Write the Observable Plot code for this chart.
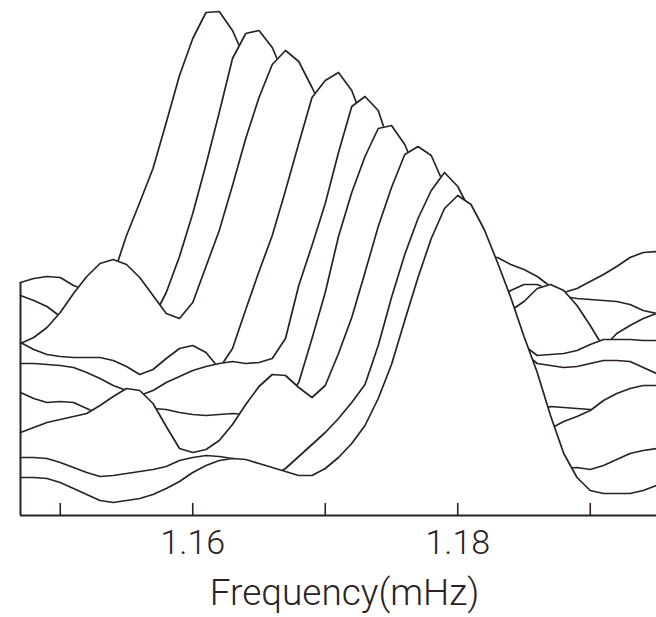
<!DOCTYPE html>
<html>
<head>
<meta charset="utf-8">
<script src="https://cdn.jsdelivr.net/npm/d3@7"></script>
<script src="https://cdn.jsdelivr.net/npm/@observablehq/plot@0.6"></script>
<style>
html, body { margin: 0; padding: 0; background: #ffffff; }
#chart { width: 656px; height: 617px; }
</style>
</head>
<body>
<div id="chart"></div>
<script>
// Frequency grid (mHz)
const freq = [1.147,1.148,1.149,1.150,1.151,1.152,1.153,1.154,1.155,1.156,
  1.157,1.158,1.159,1.160,1.161,1.162,1.163,1.164,1.165,1.166,
  1.167,1.168,1.169,1.170,1.171,1.172,1.173,1.174,1.175,1.176,
  1.177,1.178,1.179,1.180,1.181,1.182,1.183,1.184,1.185,1.186,
  1.187,1.188,1.189,1.190,1.191,1.192,1.193,1.194,1.195];

// Offset power spectra (arbitrary units), front (A) to back (I)
const spectrumA = [38,38,37,33,27,21,15,13,15,17,21,27,34,43,50,55,57,56,52,48,44,40,40,47,58,72,90,117,151,195,238,277,307,320,311,286,253,218,179,143,100,62,38,25,22,22,22,25,30];
const spectrumB = [58,58,57,53,48,43,39,40,42,44,46,49,55,58,60,59,57,52,45,39,47,59,71,83,97,113,131,170,218,261,297,325,343,329,303,275,240,205,165,125,85,47,48,46,50,56,62,65,67];
const spectrumC = [83,88,93,96,99,102,110,119,127,125,112,89,67,63,66,75,91,111,129,141,140,128,118,130,162,198,243,289,328,361,369,360,330,300,265,225,185,145,115,95,87,94,99,105,115,122,127,130,130];
const spectrumD = [123,117,113,114,113,107,101,101,103,105,107,106,103,101,100,101,102,101,100,103,115,133,177,223,279,323,359,387,390,371,340,300,260,220,185,155,130,115,105,103,109,108,107,106,103,105,110,115,117];
const spectrumE = [152,152,151,150,148,143,137,130,125,120,125,133,139,145,149,152,154,152,153,157,177,230,270,312,363,409,419,405,365,330,295,260,230,205,185,175,170,167,163,152,150,148,149,152,155,155,154,148,142];
const spectrumF = [173,166,161,159,158,158,158,155,149,141,146,157,167,170,163,147,167,206,244,280,325,372,418,435,443,425,390,355,320,285,255,230,210,195,185,177,173,170,170,160,161,162,165,171,176,176,176,175,175];
const spectrumG = [172,178,188,203,222,239,252,256,251,238,220,202,197,213,249,285,330,377,418,451,465,454,428,400,365,330,300,275,255,240,230,223,218,215,213,211,209,205,214,227,231,225,210,190,168,182,190,197,202];
const spectrumH = [220,215,209,199,197,195,195,197,200,201,197,223,259,302,351,403,457,482,485,468,437,405,375,345,320,300,285,270,257,247,239,233,227,222,217,215,215,225,231,231,225,219,217,216,215,214,211,205,202];
const spectrumI = [233,237,239,238,230,225,230,240,280,313,347,393,440,477,503,504,485,455,420,385,355,330,310,295,283,275,270,267,265,264,263,263,262,261,260,259,258,251,246,239,229,223,227,234,241,249,258,263,264];

// Drawing order: back to front (hidden-line waterfall)
const traceOrder = ["I","H","G","F","E","D","C","B","A"];
const tickValues = [1.15, 1.16, 1.17, 1.18, 1.19];
const tickLabels = [1.16, 1.18];
const xLabel = "Frequency(mHz)";

const spectra = {A: spectrumA, B: spectrumB, C: spectrumC, D: spectrumD, E: spectrumE,
                 F: spectrumF, G: spectrumG, H: spectrumH, I: spectrumI};
const rows = freq.map((f, i) => {
  const r = {freq: f};
  for (const k of traceOrder) r[k] = spectra[k][i];
  return r;
});

const ink = "#2b2124";
const font = "Roboto, 'DejaVu Sans', 'Liberation Sans', sans-serif";
const marks = [];
for (const k of traceOrder) {
  marks.push(Plot.areaY(rows, {x: "freq", y: k, fill: "white"}));
  marks.push(Plot.lineY(rows, {x: "freq", y: k, stroke: ink, strokeWidth: 1.7, strokeLinejoin: "round"}));
}
marks.push(Plot.ruleY([0], {stroke: ink, strokeWidth: 2.2}));
marks.push(Plot.ruleX([freq[0]], {y1: 0, y2: spectrumI[0], stroke: ink, strokeWidth: 2}));
marks.push(Plot.ruleX(tickValues, {x: d => d, stroke: ink, strokeWidth: 1.6, insetTop: 503}));
marks.push(Plot.text(tickLabels, {x: d => d, text: d => d.toFixed(2), frameAnchor: "bottom",
  lineAnchor: "bottom", dy: 38, fontSize: 34, fontWeight: 300, fill: ink}));
marks.push(Plot.text([xLabel], {text: d => d, frameAnchor: "bottom", lineAnchor: "bottom",
  dy: 89, dx: 6, fontSize: 37, fontWeight: 300, fill: ink}));

const chart = Plot.plot({
  width: 656,
  height: 617,
  marginTop: 0,
  marginRight: 0,
  marginBottom: 102,
  marginLeft: 20,
  x: {domain: [1.147, 1.195], axis: null},
  y: {domain: [0, 515], axis: null},
  style: {background: "white", fontFamily: font},
  marks
});
document.getElementById("chart").append(chart);
</script>
</body>
</html>
